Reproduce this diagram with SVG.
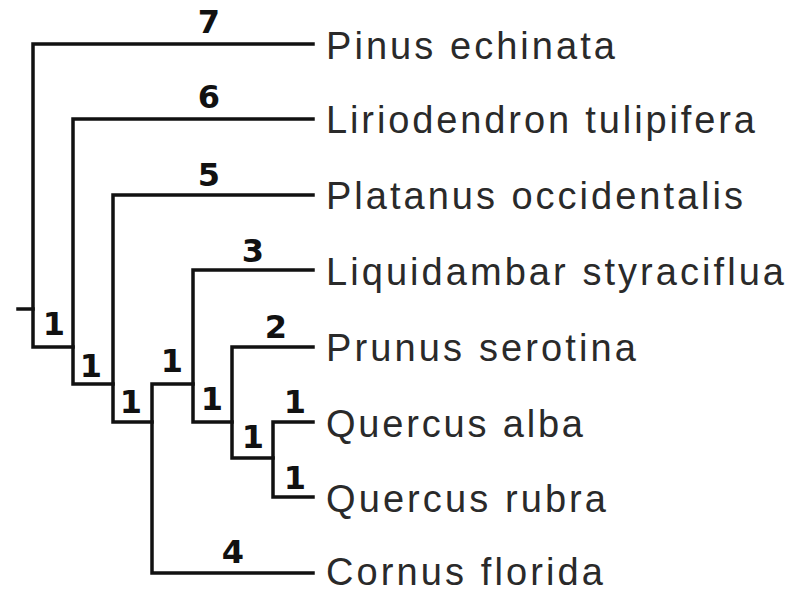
<svg xmlns="http://www.w3.org/2000/svg" width="796" height="593" viewBox="0 0 796 593">
<style>
.br{fill:none;stroke:#111;stroke-width:3.5;stroke-linecap:square;stroke-linejoin:miter}
.taxon{font-family:"Liberation Sans",Arial,sans-serif;font-size:38px;fill:#2a2a2a}
.num{font-family:"DejaVu Sans","Liberation Sans",sans-serif;font-weight:bold;font-size:32px;fill:#111;text-anchor:middle}
</style>
<rect width="796" height="593" fill="#fff"/>
<g id="connectors">
<path class="br" d="M18,309 H33"/>
<path class="br" d="M313,44 H33 V347 H73"/>
<path class="br" d="M313,119 H73 V384 H113"/>
<path class="br" d="M313,195 H113 V422 H152"/>
<path class="br" d="M193,384 H152 V573 H313"/>
<path class="br" d="M313,270 H193 V422 H232"/>
<path class="br" d="M313,347 H232 V458 H273"/>
<path class="br" d="M313,422 H273 V497 H313"/>
</g>
<g id="branch-labels">
<text class="num" x="209" y="33">7</text>
<text class="num" x="209" y="108">6</text>
<text class="num" x="209" y="186">5</text>
<text class="num" x="253" y="262">3</text>
<text class="num" x="276" y="338">2</text>
<text class="num" x="233" y="563">4</text>
</g>
<g id="node-root"><text class="num" x="54" y="335">1</text></g>
<g id="node-a"><text class="num" x="91" y="377">1</text></g>
<g id="node-b"><text class="num" x="131" y="413">1</text></g>
<g id="node-c"><text class="num" x="172" y="372">1</text></g>
<g id="node-d"><text class="num" x="212" y="410">1</text></g>
<g id="node-e"><text class="num" x="253" y="448">1</text></g>
<g id="node-f-alba"><text class="num" x="295" y="413">1</text></g>
<g id="node-f-rubra"><text class="num" x="295" y="489">1</text></g>
<g id="leaf-pinus"><text class="taxon" x="326" y="59" textLength="289" lengthAdjust="spacing">Pinus echinata</text></g>
<g id="leaf-liriodendron"><text class="taxon" x="326" y="133" textLength="429" lengthAdjust="spacing">Liriodendron tulipifera</text></g>
<g id="leaf-platanus"><text class="taxon" x="326" y="209" textLength="417" lengthAdjust="spacing">Platanus occidentalis</text></g>
<g id="leaf-liquidambar"><text class="taxon" x="326" y="285" textLength="458" lengthAdjust="spacing">Liquidambar styraciflua</text></g>
<g id="leaf-prunus"><text class="taxon" x="326" y="361" textLength="310" lengthAdjust="spacing">Prunus serotina</text></g>
<g id="leaf-quercus-alba"><text class="taxon" x="326" y="437" textLength="257" lengthAdjust="spacing">Quercus alba</text></g>
<g id="leaf-quercus-rubra"><text class="taxon" x="326" y="512" textLength="280" lengthAdjust="spacing">Quercus rubra</text></g>
<g id="leaf-cornus"><text class="taxon" x="326" y="585" textLength="277" lengthAdjust="spacing">Cornus florida</text></g>
</svg>
